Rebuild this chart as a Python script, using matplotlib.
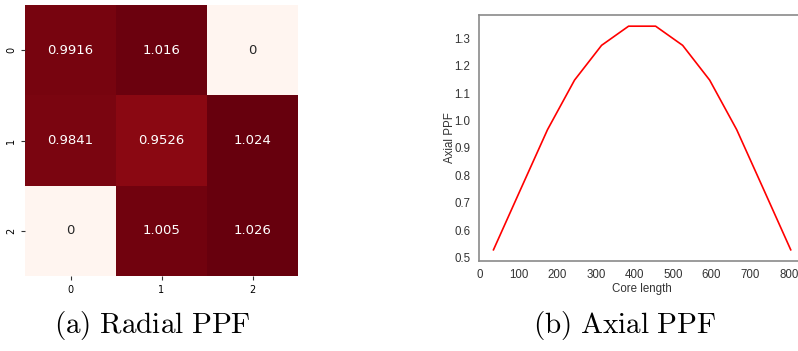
import numpy as np
import matplotlib
matplotlib.use('Agg')
import matplotlib.pyplot as plt
import seaborn as sns

# радиальный PPF по кассетам 3x3
radial_ppf = [[0.9916, 1.016, 0],
              [0.9841, 0.9526, 1.024],
              [0, 1.005, 1.026]]
cell_labels = ['0', '1', '2']

# аксиальный PPF вдоль активной зоны
core_length = [35, 105, 175, 245, 315, 385, 455, 525, 595, 665, 735, 805]
axial_ppf = [0.528, 0.748, 0.967, 1.148, 1.275, 1.345,
             1.345, 1.275, 1.148, 0.967, 0.748, 0.528]

plt.rcParams['mathtext.fontset'] = 'cm'

fig = plt.figure(figsize=(7.98, 3.51), dpi=100)

# --- слева тепловая карта ---
ax1 = fig.add_axes([25 / 798, 1 - 276 / 351, 273 / 798, 271 / 351])
sns.heatmap(np.array(radial_ppf), ax=ax1, cmap='Reds', vmin=0, annot=True,
            fmt='.4g', cbar=False, annot_kws={'fontsize': 9.5},
            xticklabels=cell_labels, yticklabels=cell_labels)
ax1.tick_params(labelsize=7, length=3, width=0.8, color='#333333')
plt.setp(ax1.get_yticklabels(), rotation=90, va='center')

# --- справа профиль по высоте ---
ax2 = fig.add_axes([478.6 / 798, 1 - 261 / 351, 327 / 798, 246 / 351])
ax2.plot(core_length, axial_ppf, color='red', linewidth=1.2)
ax2.set_xticks(range(0, 801, 100))
ax2.set_yticks([0.5, 0.6, 0.7, 0.8, 0.9, 1.0, 1.1, 1.2, 1.3])
ax2.set_xlabel('Core length', fontsize=8.3, family='Liberation Sans',
               color='#333333', labelpad=1)
ax2.set_ylabel('Axial PPF', fontsize=8.3, family='Liberation Sans',
               color='#333333', labelpad=-1)
ax2.tick_params(length=0, labelsize=8.3, labelcolor='#333333', pad=6)
for lbl in ax2.get_xticklabels() + ax2.get_yticklabels():
    lbl.set_family('Liberation Sans')
for sp in ax2.spines.values():
    sp.set_color('#8a8a8a')
    sp.set_linewidth(1.2)

# подписи под графиками
fig.text(152 / 798, 1 - 326 / 351, r'$\mathrm{(a)\ Radial\ PPF}$',
         fontsize=21, ha='center', va='center')
fig.text(625 / 798, 1 - 326 / 351, r'$\mathrm{(b)\ Axial\ PPF}$',
         fontsize=21, ha='center', va='center')

fig.savefig('out.png', dpi=100)
